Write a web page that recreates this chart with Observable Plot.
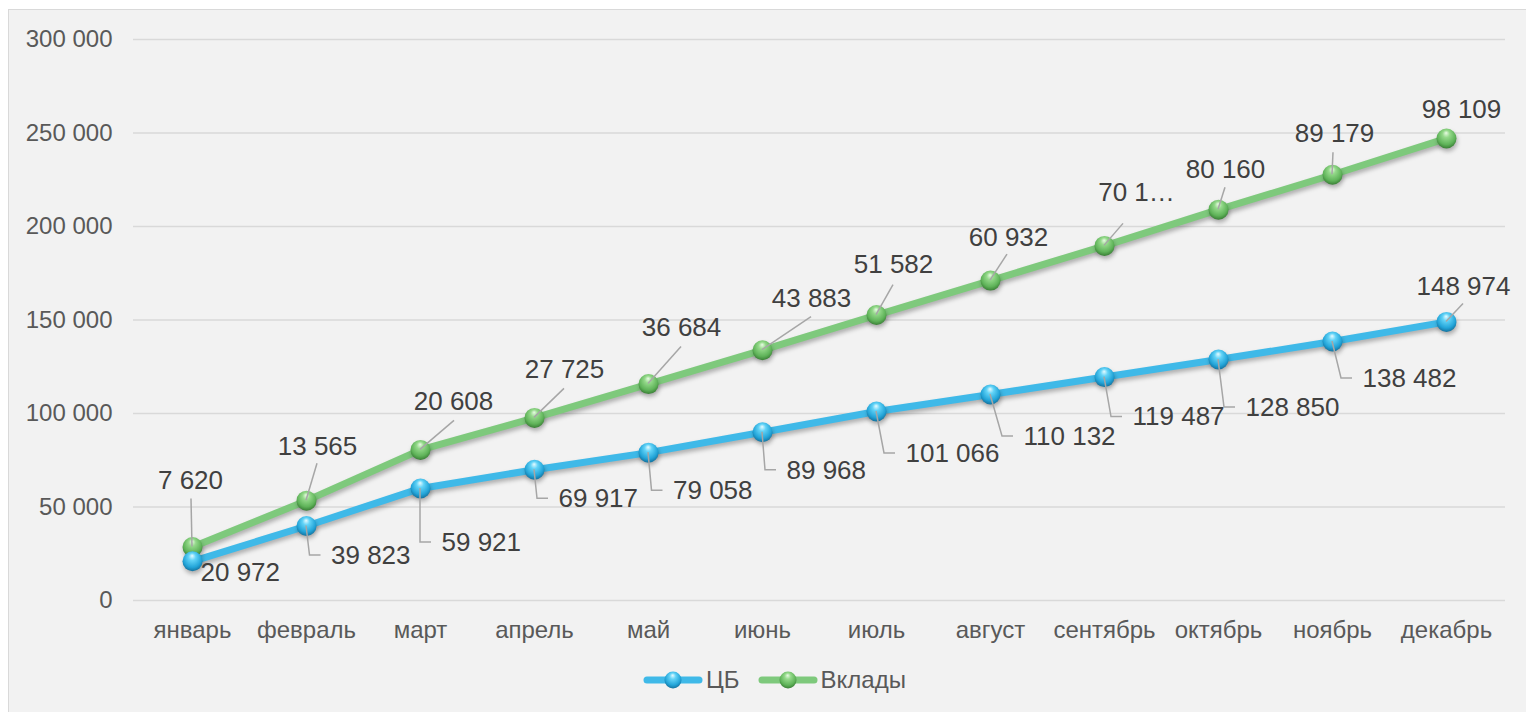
<!DOCTYPE html>
<html>
<head>
<meta charset="utf-8">
<script src="https://cdn.jsdelivr.net/npm/d3@7"></script>
<script src="https://cdn.jsdelivr.net/npm/@observablehq/plot@0.6"></script>
<style>
html,body{margin:0;padding:0;background:#fff;overflow:hidden;width:1526px;height:712px}
#frame{position:absolute;left:8px;top:9px;width:1540px;height:720px;background:#f2f2f2;border:1px solid #d9d9d9;box-sizing:border-box;overflow:hidden}
#chart{position:absolute;left:0;top:0}
#legend{position:absolute;left:634px;top:659px;display:flex;align-items:center;font:24px "Liberation Sans",Arial,sans-serif;color:#595959}
#legend .item{display:flex;align-items:center;margin-right:18px}
#legend .item span{margin-left:3px;line-height:22px}
.shadowed path, .shadowed circle{filter:drop-shadow(1px 3px 2px rgba(0,0,0,0.28))}
</style>
</head>
<body>
<div id="frame">
  <div id="chart"></div>
  <div id="legend"></div>
</div>
<script>
// ---- data ----
const months = ["январь","февраль","март","апрель","май","июнь","июль","август","сентябрь","октябрь","ноябрь","декабрь"];
const seriesNames = ["ЦБ","Вклады"];
const cb = [20972, 39823, 59921, 69917, 79058, 89968, 101066, 110132, 119487, 128850, 138482, 148974];
const vklady = [7620, 13565, 20608, 27725, 36684, 43883, 51582, 60932, 70150, 80160, 89179, 98109];
const yTicks = [0, 50000, 100000, 150000, 200000, 250000, 300000];
const truncatedLabels = {8: "70 1…"};

// ---- label layout (pixel offsets from each point) ----
const vkLabelPos = [[-2,-66],[11,-54],[33,-48],[30,-48],[33,-56],[49,-52],[17,-50],[18,-43],[32,-53],[7,-40],[2,-41],[15,-29]];
const vkLeaderEnd = [[-1,-48],[11,-37],[34,-29],[30,-29],[33,-37],[49,-33],[17,-30],[17,-26],[19,-22],[7,-22],[1,-22],null];
const cbLabelPos = [[8,11],[24.5,29.5],[21,54],[24,29],[24.5,38],[24,38],[29,42],[33,42],[28,40],[27,48],[30,37],[17,-35]];

const blue = "#3fb9e8", green = "#7ec97c";
const fmtLocale = d3.formatLocale({decimal: ",", thousands: "\u00a0", grouping: [3], currency: ["", ""]});
const fmt = fmtLocale.format(",d");

const vkTotal = cb.map((v, i) => v + vklady[i]); // stacked line
const cbText = cb.map(fmt);
const vkText = vklady.map((v, i) => truncatedLabels[i] ?? fmt(v));
const cbData = months.map((m, i) => ({month: m, value: cb[i]}));
const vkData = months.map((m, i) => ({month: m, value: vkTotal[i]}));
const idx = d3.range(months.length);

function leaders(index, scales) {
  const g = d3.create("svg:g").attr("fill", "none").attr("stroke", "#a6a6a6").attr("stroke-width", 1.5);
  idx.forEach(i => {
    const x = scales.x(months[i]);
    const yv = scales.y(vkTotal[i]);
    const e = vkLeaderEnd[i];
    if (e) g.append("path").attr("d", `M${x},${yv}L${x + e[0]},${yv + e[1]}`);
    const yc = scales.y(cb[i]);
    const p = cbLabelPos[i];
    if (i === 0) return;
    if (i === months.length - 1) {
      g.append("path").attr("d", `M${x},${yc}L${x + p[0]},${yc + p[1] + 17}`);
    } else {
      g.append("path").attr("d", `M${x},${yc}L${x + p[0] - 21},${yc + p[1]}L${x + p[0] - 10},${yc + p[1]}`);
    }
  });
  return g.node();
}

const font = '"Liberation Sans", Arial, sans-serif';
const vkTextMarks = idx.map(i => Plot.text([i], {
  x: d => months[d], y: d => vkTotal[d], text: d => vkText[d],
  dx: vkLabelPos[i][0], dy: vkLabelPos[i][1],
  fontSize: 26, fill: "#404040", textAnchor: "middle"
}));
const cbTextMarks = idx.map(i => Plot.text([i], {
  x: d => months[d], y: d => cb[d], text: d => cbText[d],
  dx: cbLabelPos[i][0], dy: cbLabelPos[i][1],
  fontSize: 26, fill: "#404040", textAnchor: i === months.length - 1 ? "middle" : "start"
}));

const svg = Plot.plot({
  width: 1517, height: 650,
  marginLeft: 124, marginRight: 21, marginTop: 29, marginBottom: 60,
  style: {background: "transparent", fontFamily: font, fontSize: "24px", color: "#595959", overflow: "visible"},
  x: {type: "point", domain: months, padding: 0.5, label: null, tickSize: 0, tickPadding: 20},
  y: {domain: [0, 300000], ticks: yTicks, tickFormat: fmt, label: null, tickSize: 0, tickPadding: 21},
  marks: [
    Plot.ruleY(yTicks, {stroke: "#d9d9d9", strokeWidth: 1.5}),
    Plot.line(vkData, {x: "month", y: "value", stroke: green, strokeWidth: 7, className: "shadowed"}),
    Plot.line(cbData, {x: "month", y: "value", stroke: blue, strokeWidth: 7, className: "shadowed"}),
    Plot.dot(vkData, {x: "month", y: "value", r: 10, fill: "url(#ballGreen)", stroke: "none", className: "shadowed"}),
    Plot.dot(cbData, {x: "month", y: "value", r: 10, fill: "url(#ballBlue)", stroke: "none", className: "shadowed"}),
    leaders,
    ...vkTextMarks,
    ...cbTextMarks
  ]
});

const defs = `<defs>
<radialGradient id="ballBlue" cx="50%" cy="40%" r="60%" fx="48%" fy="22%">
 <stop offset="0%" stop-color="#e6fbff"/><stop offset="30%" stop-color="#62d3f7"/>
 <stop offset="75%" stop-color="#22a4d8"/><stop offset="100%" stop-color="#15729e"/>
</radialGradient>
<radialGradient id="ballGreen" cx="50%" cy="40%" r="60%" fx="48%" fy="22%">
 <stop offset="0%" stop-color="#e8fbe3"/><stop offset="30%" stop-color="#94d98a"/>
 <stop offset="75%" stop-color="#5fb359"/><stop offset="100%" stop-color="#3a7f36"/>
</radialGradient>
</defs>`;
svg.insertAdjacentHTML("afterbegin", defs);
document.getElementById("chart").appendChild(svg);

// legend
const legend = d3.select("#legend");
[[seriesNames[0], blue, "ballBlue"], [seriesNames[1], green, "ballGreen"]].forEach(([name, color, grad]) => {
  const item = legend.append("div").attr("class", "item");
  const s = item.append("svg").attr("width", 60).attr("height", 22);
  s.html(defs);
  s.append("line").attr("x1", 4).attr("x2", 56).attr("y1", 11).attr("y2", 11)
    .attr("stroke", color).attr("stroke-width", 7).attr("stroke-linecap", "round");
  s.append("circle").attr("cx", 30).attr("cy", 11).attr("r", 8.5).attr("fill", `url(#${grad})`);
  item.append("span").text(name);
});
</script>
</body>
</html>
